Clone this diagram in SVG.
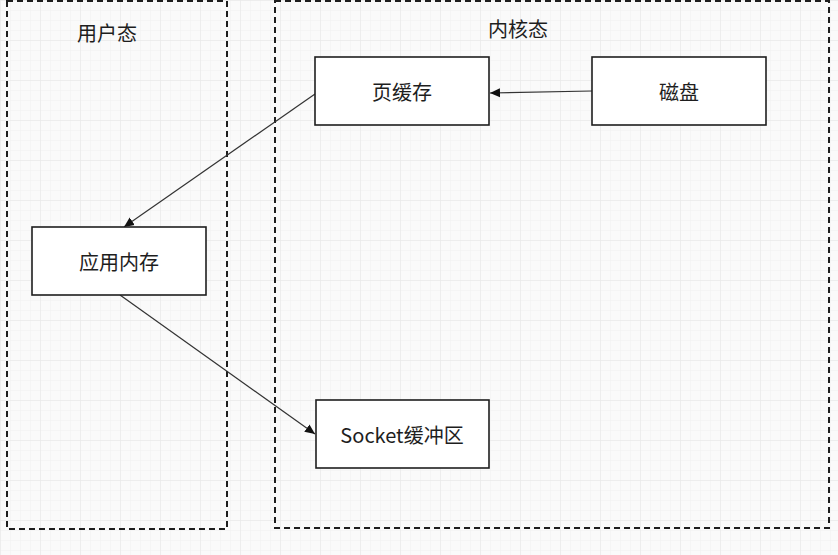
<svg xmlns="http://www.w3.org/2000/svg" width="838" height="555" viewBox="0 0 838 555">
<style>
.region{fill:none;stroke:#1e1e1e;stroke-width:2;stroke-dasharray:6 4}
.box{fill:#ffffff;stroke:#1e1e1e;stroke-width:1.6}
.lbl{font-family:"Noto Sans CJK SC","Noto Sans",sans-serif;font-size:20px;fill:#1e1e1e;text-anchor:middle;dominant-baseline:central}
.edge{fill:none;stroke:#333;stroke-width:1.2;marker-end:url(#arr)}
</style>
<defs>
<pattern id="grid" width="10" height="10" patternUnits="userSpaceOnUse">
<path d="M10 0H0V10" fill="none" stroke="#efefef" stroke-width="1"/>
</pattern>
<pattern id="grid4" width="40" height="40" patternUnits="userSpaceOnUse">
<path d="M40 0H0V40" fill="none" stroke="#e6e6e6" stroke-width="1"/>
</pattern>
<marker id="arr" viewBox="0 0 10 10" refX="10" refY="5" markerWidth="10" markerHeight="10" markerUnits="userSpaceOnUse" orient="auto">
<path d="M0 0.5L10 5L0 9.5Z" fill="#111"/>
</marker>
</defs>
<rect x="0" y="0" width="838" height="555" fill="#fafafa"/>
<rect x="0" y="0" width="838" height="555" fill="url(#grid)"/>
<rect x="0" y="0" width="838" height="555" fill="url(#grid4)"/>

<g id="user-space">
<rect class="region" x="7" y="1" width="220" height="528"/>
<text class="lbl" x="107" y="32">用户态</text>
</g>
<g id="kernel-space">
<rect class="region" x="275" y="1" width="554" height="527"/>
<text class="lbl" x="518" y="28">内核态</text>
</g>

<g id="connectors">
<line class="edge" x1="592" y1="91" x2="490" y2="93"/>
<line class="edge" x1="315" y1="94" x2="124" y2="227"/>
<line class="edge" x1="120" y1="295" x2="315" y2="434"/>
</g>

<g id="page-cache">
<rect class="box" x="315" y="57" width="174" height="68"/>
<text class="lbl" x="402" y="91">页缓存</text>
</g>
<g id="disk">
<rect class="box" x="592" y="57" width="174" height="68"/>
<text class="lbl" x="679" y="91">磁盘</text>
</g>
<g id="app-memory">
<rect class="box" x="32" y="227" width="174" height="68"/>
<text class="lbl" x="119" y="261">应用内存</text>
</g>
<g id="socket-buffer">
<rect class="box" x="316" y="400" width="173" height="68"/>
<text class="lbl" x="402" y="434">Socket缓冲区</text>
</g>
</svg>
